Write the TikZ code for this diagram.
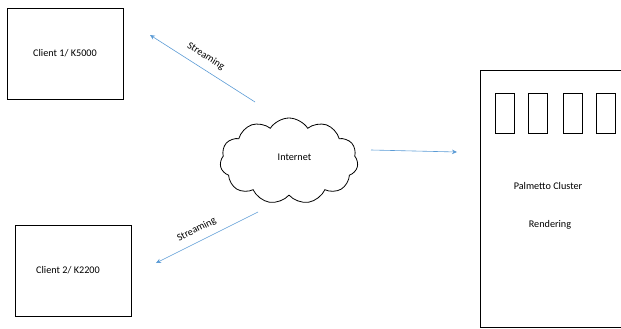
\documentclass[tikz,border=0pt]{standalone}
\usepackage{fontspec}
\setmainfont{Carlito}
\usetikzlibrary{shapes.symbols,arrows.meta}
\definecolor{arrowblue}{RGB}{91,155,213}
\tikzset{
  box/.style={draw=black, line width=0.8pt, minimum width=116pt, minimum height=91pt, inner sep=0pt, font=\fontsize{10.2}{12}\selectfont},
  slot/.style={draw=black, line width=0.7pt, minimum width=19pt, minimum height=40pt, inner sep=0pt},
  flow/.style={draw=arrowblue, line width=0.6pt, -{Stealth[length=5pt,width=4.5pt]}},
  lbl/.style={font=\fontsize{10.2}{12}\selectfont, inner sep=0pt},
}
\begin{document}
\begin{tikzpicture}[x=1pt,y=-1pt]
\useasboundingbox (0,0) rectangle (621,329);
\begin{scope}
\clip (0,0) rectangle (621,329);
\node[box] (c1) at (65,53.5) {Client 1/ K5000};
\node[box] (c2) at (73,270.5) {\hspace*{-10pt}Client 2/ K2200};
\node[draw=black, line width=0.8pt, minimum width=150pt, minimum height=257pt, inner sep=0pt] (cl) at (555,198.5) {};
\node[lbl] (pc) at (548,185.5) {Palmetto Cluster};
\node[lbl] (rd) at (550,225) {Rendering};
\node[slot] (s1) at (504.5,113) {};
\node[slot] (s2) at (537.5,113) {};
\node[slot] (s3) at (573,113) {};
\node[slot] (s4) at (605.5,113) {};
\node[cloud, draw=black, line width=0.8pt, cloud puffs=11, cloud puff arc=115, aspect=1.6, minimum width=138pt, minimum height=86pt, inner sep=0pt] (net) at (289,161) {};
\node[lbl] (it) at (294.5,157.5) {Internet};
\coordinate (a1s) at (255,102);
\coordinate (a1e) at (150,35);
\coordinate (a2s) at (258,212);
\coordinate (a2e) at (156,263);
\coordinate (a3s) at (371,150);
\coordinate (a3e) at (457,152);
\draw[flow] (a1s) -- node[lbl, sloped, above=7.5pt, pos=0.53] {Streaming} (a1e);
\draw[flow] (a2s) -- node[lbl, sloped, above=7pt, pos=0.55] {Streaming} (a2e);
\draw[flow] (a3s) -- (a3e);
\end{scope}
\end{tikzpicture}
\end{document}
